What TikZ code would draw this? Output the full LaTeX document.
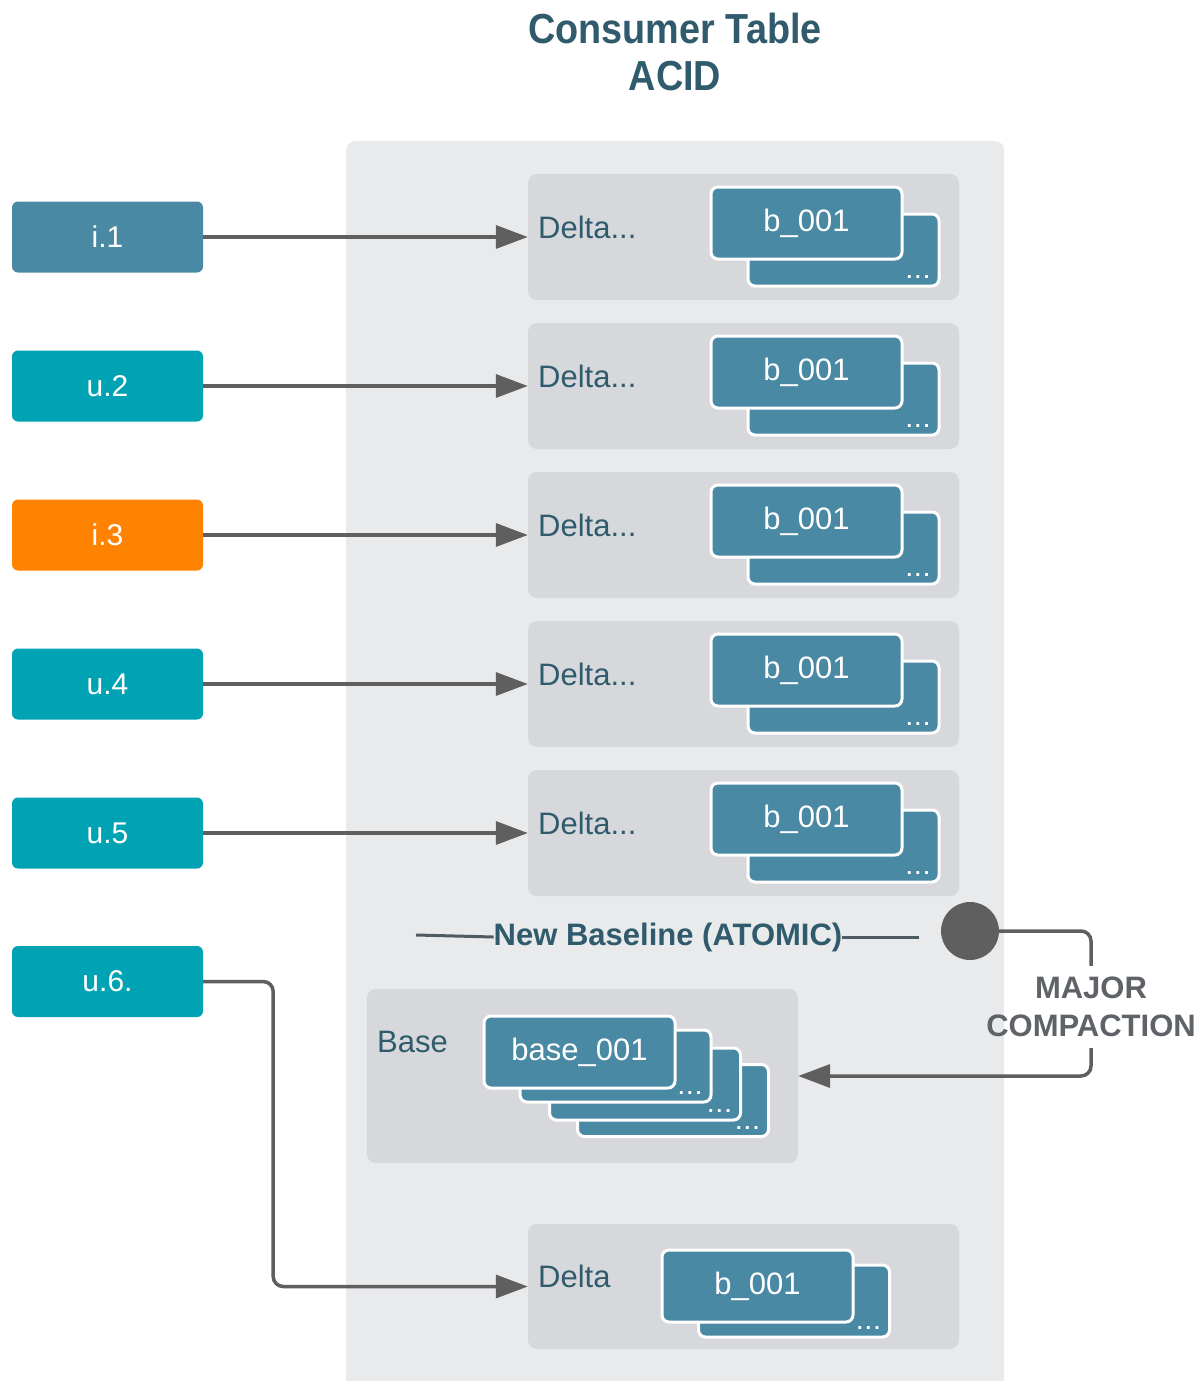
\documentclass[tikz,border=0pt]{standalone}
\usepackage{fontspec}
\setmainfont{Liberation Sans}
\newfontfamily\titlefont{Liberation Sans}[FakeStretch=0.9]
\usetikzlibrary{arrows.meta}
\definecolor{tealdark}{HTML}{2F5B6D}
\definecolor{steel}{HTML}{4A89A3}
\definecolor{tealbox}{HTML}{00A3B3}
\definecolor{orangebox}{HTML}{FF8300}
\definecolor{outerpanel}{HTML}{E9EAEC}
\definecolor{innerpanel}{HTML}{D7D8DC}
\definecolor{arrowgray}{HTML}{5F5F5F}
\definecolor{labelgray}{HTML}{5F6368}
\definecolor{baseline}{HTML}{4F5B62}
\newcommand{\mydots}{.\hspace{3pt}.\hspace{3pt}.}
\tikzset{
  lbox/.style={rectangle, rounded corners=6pt, minimum width=191pt, minimum height=71pt, inner sep=0pt, text=white, font=\fontsize{30pt}{36pt}\selectfont},
  innerp/.style={rectangle, rounded corners=9pt, fill=innerpanel, inner sep=0pt},
  fbox/.style={rectangle, rounded corners=7pt, fill=steel, draw=white, line width=3pt, minimum width=191pt, minimum height=72pt, inner sep=0pt, text=white, font=\fontsize{31pt}{36pt}\selectfont},
  dots/.style={text=white, inner sep=0pt, font=\fontsize{20pt}{20pt}\selectfont\bfseries},
  ptext/.style={text=tealdark, inner sep=0pt, font=\fontsize{31pt}{36pt}\selectfont},
  arr/.style={-{Triangle[length=32pt,width=23pt]}, line width=3.5pt, draw=arrowgray},
  conn/.style={line width=3.5pt, draw=arrowgray, rounded corners=10pt},
}
\begin{document}
\begin{tikzpicture}[x=1pt,y=-1pt]
\useasboundingbox[fill=white] (0,0) rectangle (1204,1381);
% title
\node[align=center, text=tealdark, font=\fontsize{42pt}{47pt}\selectfont\titlefont\bfseries] (title) at (675,52) {Consumer Table\\ACID};
% outer panel
\node[rectangle, rounded corners=9pt, fill=outerpanel, minimum width=658pt, minimum height=1280pt, inner sep=0pt, anchor=north west] (tbl) at (346,141) {};
% rows
\foreach \i/\lab/\col in {1/i.1/steel, 2/u.2/tealbox, 3/i.3/orangebox, 4/u.4/tealbox, 5/u.5/tealbox} {
  \pgfmathsetmacro{\yy}{237+149*(\i-1)}
  \node[lbox, fill=\col] (L\i) at (107.5,\yy) {\lab};
  \node[innerp, minimum width=431pt, minimum height=126pt] (D\i) at (743.5,\yy) {};
  \node[ptext, anchor=west] (DT\i) at (538,\yy-10) {Delta...};
  \node[fbox] (B\i) at (843.5,\yy+13) {};
  \node[dots, anchor=base east] (BD\i) at ([xshift=-11pt,yshift=9pt]B\i.south east) {\mydots};
  \node[fbox] (F\i) at (806.5,\yy-14) {b\_001};
  \draw[arr] (L\i.east) -- (D\i.west);
}
% u.6 row
\node[lbox, fill=tealbox] (L6) at (107.5,981.5) {u.6.};
\node[innerp, minimum width=431pt, minimum height=125pt] (D6) at (743.5,1286.5) {};
\node[ptext, anchor=west] (DT6) at (538,1276) {Delta};
\node[fbox] (B6) at (794,1301) {};
\node[dots, anchor=base east] (BD6) at ([xshift=-11pt,yshift=9pt]B6.south east) {\mydots};
\node[fbox] (F6) at (757.5,1286) {b\_001};
\draw[arr, rounded corners=10pt] (L6.east) -- ([xshift=70pt]L6.east) |- (D6.west);
% base panel
\node[innerp, minimum width=431pt, minimum height=174pt] (base) at (582.5,1076) {};
\node[ptext, anchor=west] (basetxt) at (377,1042) {Base};
\node[fbox] (P4) at (673,1100.5) {};
\node[dots, anchor=base east] (PD4) at ([xshift=-11pt,yshift=9pt]P4.south east) {\mydots};
\node[fbox] (P3) at (645,1084) {};
\node[dots, anchor=base east] (PD3) at ([xshift=-11pt,yshift=9pt]P3.south east) {\mydots};
\node[fbox] (P2) at (615.5,1066) {};
\node[dots, anchor=base east] (PD2) at ([xshift=-11pt,yshift=9pt]P2.south east) {\mydots};
\node[fbox] (P1) at (579.5,1052) {base\_001};
% new baseline
\node[text=tealdark, inner sep=0pt, font=\fontsize{31pt}{36pt}\selectfont\bfseries] (nb) at (668,937) {New Baseline (ATOMIC)};
\coordinate (nbl) at (416,935);
\coordinate (nbr) at (919,937);
\draw[line width=3pt, draw=baseline] (nbl) -- (nb.west);
\draw[line width=3pt, draw=baseline] (nb.east) -- (nbr);
% circle and compaction
\node[circle, fill=arrowgray, minimum size=58pt, inner sep=0pt] (circ) at (970,931) {};
\node[align=center, text=labelgray, inner sep=0pt, minimum height=82pt, font=\fontsize{31pt}{38pt}\selectfont\bfseries] (comp) at (1091,1007) {MAJOR\\COMPACTION};
\draw[conn] (circ.east) -| (comp.north);
\draw[arr, rounded corners=10pt] (comp.south) |- (base.east);
\end{tikzpicture}
\end{document}
